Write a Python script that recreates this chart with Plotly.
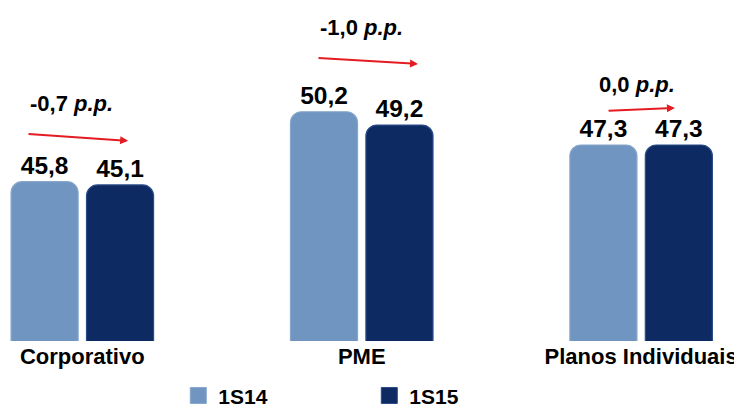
import plotly.graph_objects as go

categories = ["Corporativo", "PME", "Planos Individuais"]
series_names = ["1S14", "1S15"]
values_1s14 = [45.8, 50.2, 47.3]
values_1s15 = [45.1, 49.2, 47.3]

FONT = "Liberation Sans, Arial, sans-serif"
colors = ["#7195c1", "#0d2a63"]
line_colors = ["#86a6cc", "#2a4a88"]
yaxis_ids = ["y", "y2", "y3"]
# per-category axis ranges (the original chart scales each group separately)
y_ranges = [[11.9, 82.75], [32.96, 58.0], [27.7, 61.0]]

bar_w = 0.24
offsets = [-0.255, 0.015]

fig = go.Figure()
for s, (name, vals) in enumerate(zip(series_names, [values_1s14, values_1s15])):
    for i, cat in enumerate(categories):
        fig.add_trace(go.Bar(
            x=[i], y=[vals[i]], name=name, legendgroup=name,
            showlegend=False, yaxis=yaxis_ids[i],
            width=bar_w, offset=offsets[s],
            marker=dict(color=colors[s], cornerradius=11,
                        line=dict(color=line_colors[s], width=1.2)),
            text=[f"{vals[i]:.1f}".replace(".", ",")],
            textposition="outside", cliponaxis=False,
            textfont=dict(family=FONT, size=24.5, color="black", weight="bold"),
        ))
    # legend entry
    fig.add_trace(go.Scatter(
        x=[None], y=[None], mode="markers", name=name, legendgroup=name,
        marker=dict(symbol="square", size=20, color=colors[s],
                    line=dict(color=line_colors[s], width=1)),
    ))

annotations = []
delta_x = [-0.037, 0.0, -0.015]
delta_y = [0.712, 0.940, 0.769]
arrow_tail_dx = [-0.198, -0.160, -0.122]
arrow_head_dx = [0.164, 0.2015, 0.121]
arrow_tail_y = [0.622, 0.850, 0.691]
arrow_head_y = [0.601, 0.832, 0.700]
for i in range(3):
    d = values_1s15[i] - values_1s14[i]
    txt = f"{d:.1f}".replace(".", ",")
    if txt == "-0,0":
        txt = "0,0"
    annotations.append(dict(
        x=i + delta_x[i], y=delta_y[i], xref="x", yref="y domain",
        text=f"<b>{txt} <i>p.p.</i></b>", showarrow=False,
        font=dict(family=FONT, size=22, color="black"),
        xanchor="center", yanchor="middle"))
    annotations.append(dict(
        x=i + arrow_head_dx[i], y=arrow_head_y[i], xref="x", yref="y domain",
        ax=i + arrow_tail_dx[i], ay=arrow_tail_y[i], axref="x", ayref="y domain",
        showarrow=True, arrowhead=2, arrowsize=0.8, arrowwidth=2,
        arrowcolor="#e41c22", text=""))

fig.update_layout(
    width=734, height=399,
    margin=dict(l=0, r=0, t=0, b=66),
    paper_bgcolor="white", plot_bgcolor="white",
    barmode="overlay",
    font=dict(family=FONT, color="black"),
    xaxis=dict(range=[-0.266, 2.361], tickmode="array",
               tickvals=[0, 1, 2], ticktext=categories,
               showgrid=False, zeroline=False, showline=False,
               tickfont=dict(family=FONT, size=22, color="black", weight="bold")),
    yaxis=dict(range=y_ranges[0], visible=False, fixedrange=True),
    yaxis2=dict(range=y_ranges[1], visible=False, overlaying="y"),
    yaxis3=dict(range=y_ranges[2], visible=False, overlaying="y"),
    legend=dict(orientation="h", xref="container", yref="container",
                x=0.232, y=0.028, xanchor="left", yanchor="middle",
                font=dict(family=FONT, size=21, color="black", weight="bold"),
                itemsizing="trace",
                entrywidth=146, entrywidthmode="pixels", bgcolor="rgba(0,0,0,0)"),
    annotations=annotations,
    showlegend=True,
)

fig.write_html("out.html")
